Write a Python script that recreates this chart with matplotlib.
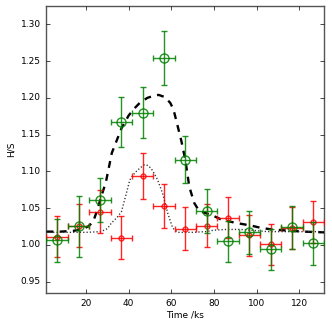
import matplotlib
matplotlib.use('Agg')
import matplotlib.pyplot as plt
import numpy as np

plt.style.use('classic')

# time bins (ks), half-width of each bin
t = [6.5, 16.5, 26.5, 36.5, 46.5, 56.5, 66.5, 76.5, 86.5, 96.5, 106.5, 116.5, 126.5]
t_err = 5.0

# hardness ratio, band 1 (green) and band 2 (red)
hs_green = [1.006, 1.025, 1.061, 1.167, 1.180, 1.254, 1.116, 1.046, 1.005, 1.017, 0.994, 1.024, 1.002]
hs_green_err = [0.029, 0.042, 0.030, 0.034, 0.035, 0.037, 0.032, 0.030, 0.028, 0.029, 0.028, 0.029, 0.029]
hs_red = [1.011, 1.026, 1.045, 1.010, 1.094, 1.053, 1.022, 1.026, 1.037, 1.013, 1.001, 1.023, 1.031]
hs_red_err = [0.028, 0.029, 0.029, 0.029, 0.031, 0.030, 0.029, 0.029, 0.028, 0.028, 0.028, 0.028, 0.029]

# model curves
model1_t = [1.5, 8, 14, 18, 21, 23.3, 25, 27.4, 29.3, 32.1, 36.7, 40, 42.8, 45.5, 48.8, 52, 54,
            57, 59.5, 61, 62.3, 64.7, 66.5, 68.4, 70.7, 73, 76.3, 80, 83.7, 90, 97.7, 102, 107,
            116.3, 122, 131.5]
model1_hs = [1.018, 1.018, 1.019, 1.021, 1.025, 1.031, 1.045, 1.068, 1.085, 1.125, 1.159, 1.176,
             1.186, 1.194, 1.200, 1.203, 1.204, 1.201, 1.193, 1.184, 1.169, 1.141, 1.116, 1.079,
             1.057, 1.046, 1.043, 1.039, 1.034, 1.030, 1.026, 1.023, 1.021, 1.019, 1.018, 1.017]
model2_t = [1.5, 10, 20, 27, 30, 32, 34.5, 36.6, 38.9, 40.5, 42, 43.6, 45.5, 47.4, 49, 50.5, 52,
            53.6, 55.9, 58.3, 60.6, 62.9, 70, 76, 80, 86, 92, 97, 105, 115, 131.5]
model2_hs = [1.017, 1.017, 1.017, 1.018, 1.022, 1.030, 1.037, 1.045, 1.070, 1.088, 1.095, 1.100,
             1.105, 1.109, 1.108, 1.104, 1.097, 1.088, 1.070, 1.043, 1.023, 1.017, 1.017, 1.018,
             1.020, 1.021, 1.021, 1.020, 1.018, 1.018, 1.018]

fig = plt.figure(figsize=(3.32, 3.30), dpi=100)
ax = fig.add_axes([0.14, 0.111, 0.836, 0.871])

ax.plot(model1_t, model1_hs, color='k', lw=1.7, linestyle=(0, (5.0, 4.5)), zorder=3)
ax.plot(model2_t, model2_hs, color='#333333', lw=1.0, linestyle=(0, (0.9, 1.5)), zorder=3)

ax.errorbar(t, hs_red, xerr=t_err, yerr=hs_red_err, fmt='o', color='r', ecolor='r',
            mfc='none', mec='r', mew=1.0, ms=3.5, capsize=2.5, elinewidth=1.0,
            alpha=0.85, zorder=4)
ax.errorbar(t, hs_green, xerr=t_err, yerr=hs_green_err, fmt='o', color='g', ecolor='g',
            mfc='none', mec='g', mew=1.0, ms=6.5, capsize=2.5, elinewidth=1.0,
            alpha=0.85, zorder=5)

ax.set_xlim(1.5, 131.5)
ax.set_ylim(0.934, 1.325)
ax.set_xticks([20, 40, 60, 80, 100, 120])
ax.set_yticks([0.95, 1.00, 1.05, 1.10, 1.15, 1.20, 1.25, 1.30])
ax.tick_params(labelsize=6.5, length=3)
ax.set_xlabel('Time /ks', fontsize=6.5, labelpad=2)
ax.set_ylabel('H/S', fontsize=6.5, labelpad=4)
for sp in ax.spines.values():
    sp.set_color('#555555')

fig.savefig('out.png', dpi=100)
